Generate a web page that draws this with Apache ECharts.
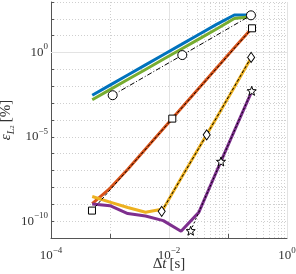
<!DOCTYPE html>
<html><head><meta charset="utf-8">
<script src="https://cdn.jsdelivr.net/npm/echarts@6/dist/echarts.min.js"></script>
<style>html,body{margin:0;padding:0;background:#fff}#c{width:296px;height:274px}</style>
</head><body><div id="c"></div>
<script>
// time steps [s]
const dt = [5e-4, 1e-3, 2e-3, 4e-3, 8e-3, 1.6e-2, 3.2e-2, 6.4e-2, 1.28e-1, 2.56e-1];
// error series [%]
const errBlue   = [2.95e-3, 1.175e-2, 4.68e-2, 0.186, 0.741, 2.95, 11.75, 46.8, 169.8, 169.8];
const errRed    = [1.10e-9, 8.91e-9, 1.20e-7, 1.905e-6, 3.02e-5, 4.79e-4, 7.59e-3, 0.1202, 1.905, 28.8];
const errYellow = [2.88e-9, 1.35e-9, 6.46e-10, 3.39e-10, 5.25e-10, 3.55e-8, 2.19e-6, 1.35e-4, 8.71e-3, 0.603];
const errPurple = [1.05e-9, 8.32e-10, 2.82e-10, 2.0e-10, 1.07e-10, 2.51e-11, 3.31e-10, 8.91e-8, 2.24e-5, 5.50e-3];
const errGreen  = [1.585e-3, 6.31e-3, 2.51e-2, 0.1, 0.398, 1.585, 6.31, 25.1, 104.7, 138];
// reference slopes (order 2, 4, 6, 8)
const ref2Dt  = [1.11e-3, 1.68e-2, 0.245];
const ref2Err = [2.95e-3, 0.71, 162];
const ref4Dt  = [4.95e-4, 1.138e-2, 0.2553];
const ref4Err = [4.22e-10, 1.211e-4, 27.5];
const ref6Dt  = [7.52e-3, 4.355e-2, 0.2466];
const ref6Err = [3.83e-10, 1.318e-5, 0.5176];
const ref8Dt  = [2.333e-2, 7.603e-2, 0.2523];
const ref8Err = [2.69e-11, 3.47e-7, 5.37e-3];
// tick labels (exponents)
const xTickExps = [-4, -2, 0];
const yTickExps = [-10, -5, 0];

const serif = 'Liberation Serif';
const pairs = (xs, ys) => xs.map((x, i) => [x, ys[i]]);
const sup = v => {
  const e = Math.round(Math.log10(v));
  return '{b|10}{s|' + (e < 0 ? '\u2212' + (-e) : e) + '}';
};
const rich = {
  b: {fontFamily: serif, fontSize: 13, color: '#333', lineHeight: 20, verticalAlign: 'middle'},
  s: {fontFamily: serif, fontSize: 9, color: '#333', lineHeight: 9, verticalAlign: 'top'}
};

// star path
let starPath = 'path://';
for (let i = 0; i < 10; i++) {
  const r = i % 2 === 0 ? 1 : 0.42;
  const a = -Math.PI / 2 + i * Math.PI / 5;
  starPath += (i === 0 ? 'M' : 'L') + (r * Math.cos(a)).toFixed(3) + ',' + (r * Math.sin(a)).toFixed(3);
}
starPath += 'Z';

// grid lines
const minorX = [];
for (let e = -4; e < 0; e++) for (let m = 2; m <= 9; m++) minorX.push({xAxis: m * Math.pow(10, e)});
const majorLines = [];
xTickExps.forEach(e => { if (e > -4) majorLines.push({xAxis: Math.pow(10, e)}); });
yTickExps.forEach(e => majorLines.push({yAxis: Math.pow(10, e)}));

const lineS = (name, ys, color, z) => ({
  name, type: 'line', data: pairs(dt, ys), showSymbol: false, z,
  lineStyle: {color, width: 3}, itemStyle: {color}, animation: false, silent: true
});
const refS = (xs, ys, symbol, size, dash) => ({
  type: 'line', data: pairs(xs, ys), symbol, symbolSize: size, showSymbol: true, z: 20,
  lineStyle: {color: '#000', width: 1, type: dash},
  itemStyle: {color: '#fff', borderColor: '#000', borderWidth: 1},
  animation: false, silent: true
});

const chart = echarts.init(document.getElementById('c'));
chart.setOption({
  animation: false,
  grid: {left: 51, right: 9, top: 2, bottom: 36, containLabel: false, outerBoundsMode: 'none'},
  xAxis: {
    type: 'log', logBase: 10, min: 1e-4, max: 1, interval: 1,
    axisLine: {show: true, lineStyle: {color: '#555', width: 1}},
    axisTick: {show: true, inside: true, length: 4, lineStyle: {color: '#555'}},
    axisLabel: {formatter: v => xTickExps.includes(Math.round(Math.log10(v))) ? sup(v) : '', rich, margin: 8},
    splitLine: {show: true, lineStyle: {color: '#cfcfcf', type: [1, 2], width: 1}},
    name: '{d|\u0394}{t|t}{d|\u2009[s]}', nameLocation: 'middle', nameGap: 19, nameMoveOverlap: false,
    nameTextStyle: {rich: {
      d: {fontFamily: serif, fontSize: 15, color: '#333'},
      t: {fontFamily: serif, fontSize: 15, fontStyle: 'italic', color: '#333'}
    }}
  },
  yAxis: {
    type: 'log', logBase: 10, min: 1e-11, max: 1e3, interval: 1,
    axisLine: {show: true, lineStyle: {color: '#555', width: 1}},
    axisTick: {show: true, inside: true, length: 3, lineStyle: {color: '#555'}},
    axisLabel: {formatter: v => yTickExps.includes(Math.round(Math.log10(v))) ? sup(v) : '', rich, margin: 3},
    splitLine: {show: true, lineStyle: {color: '#cfcfcf', type: [1, 2], width: 1}},
    name: '{e|\u03B5}{l|L}{n|2}{d|\u2009[%]}', nameLocation: 'middle', nameGap: 35, nameRotate: 90, nameMoveOverlap: false,
    nameTextStyle: {rich: {
      e: {fontFamily: serif, fontSize: 15, fontStyle: 'italic', color: '#333', lineHeight: 20},
      l: {fontFamily: serif, fontSize: 10, fontStyle: 'italic', color: '#333', lineHeight: 10, verticalAlign: 'bottom'},
      n: {fontFamily: serif, fontSize: 7, color: '#333', lineHeight: 7, verticalAlign: 'bottom'},
      d: {fontFamily: serif, fontSize: 15, color: '#333', lineHeight: 20}
    }}
  },
  series: [
    {type: 'line', data: [], silent: true, z: 1,
      markLine: {silent: true, z: 1, symbol: 'none', label: {show: false}, animation: false,
        lineStyle: {color: '#d2d2d2', type: [1, 2], width: 1}, data: minorX}},
    {type: 'line', data: [], silent: true, z: 1,
      markLine: {silent: true, z: 1, symbol: 'none', label: {show: false}, animation: false,
        lineStyle: {color: '#e3e3e3', type: 'solid', width: 1}, data: majorLines}},
    lineS('blue', errBlue, '#0072BD', 3),
    lineS('red', errRed, '#D95319', 4),
    lineS('yellow', errYellow, '#EDB120', 5),
    lineS('purple', errPurple, '#7E2F8E', 6),
    lineS('green', errGreen, '#77AC30', 7),
    refS(ref2Dt, ref2Err, 'circle', 9, [5, 2, 1, 2]),
    refS(ref4Dt, ref4Err, 'rect', 7, [3, 2]),
    refS(ref6Dt, ref6Err, 'diamond', [7, 10], [3, 2]),
    refS(ref8Dt, ref8Err, starPath, 9, [2, 2])
  ]
});
</script></body></html>
